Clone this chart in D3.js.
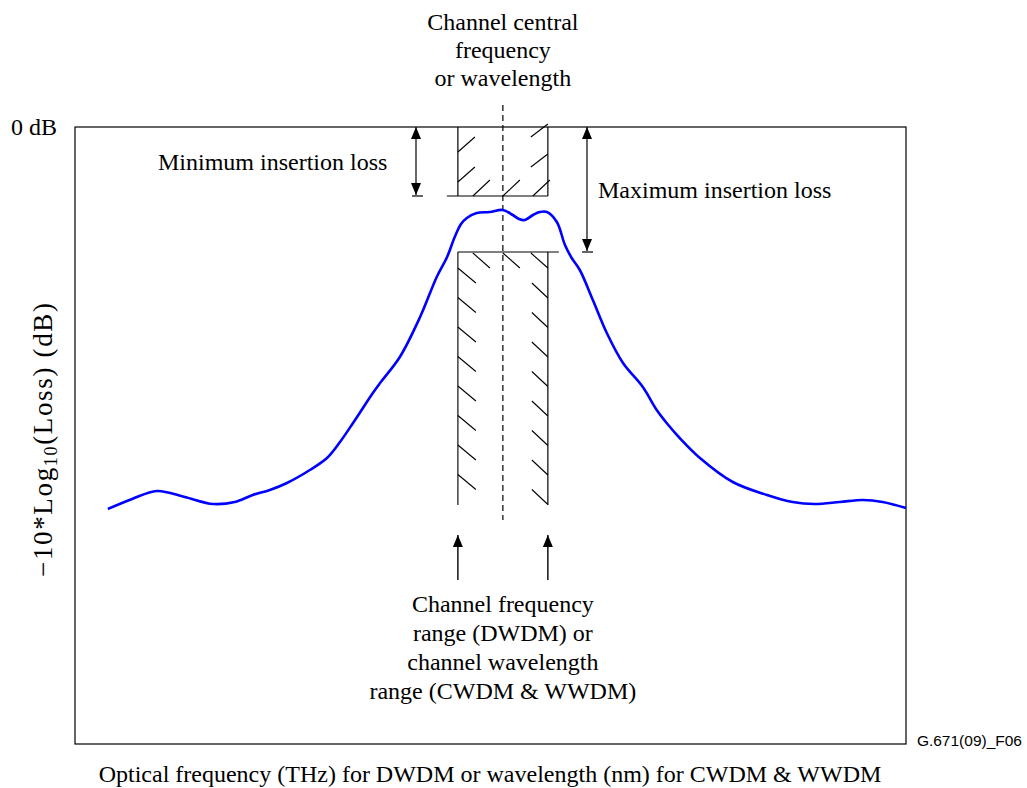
<!DOCTYPE html>
<html><head><meta charset="utf-8">
<script src="https://cdn.jsdelivr.net/npm/d3@7"></script>
<style>
html,body{margin:0;padding:0;background:#fff;}
text{font-family:"Liberation Serif","Times New Roman",serif;fill:#000;}
</style></head>
<body>
<svg id="chart" width="1027" height="788"></svg>
<script>
// Relative optical frequency (arbitrary units, channel centre = 0) and transmission (dB)
const curveFreq = [-87.8,-82.4,-76.9,-70.7,-64.4,-59.6,-55.6,-51.8,-48.0,-42.9,-39.1,-36.2,-33.3,-28.9,-27.3,-22.9,-18.4,-14.7,-12.4,-10.7,-9.3,-8.0,-5.8,-2.9,0,2.2,3.6,4.9,6.7,8.2,9.8,12.0,13.8,15.3,17.1,20.0,23.1,26.7,31.1,34.2,36.4,39.3,43.8,51.1,58.7,64.4,69.3,74.9,80.0,84.4,89.6];
const curveDb   = [-19.1,-18.6,-18.2,-18.5,-18.85,-18.75,-18.4,-18.15,-17.8,-17.15,-16.55,-15.75,-14.8,-13.3,-12.8,-11.5,-9.5,-7.5,-6.5,-5.5,-4.85,-4.55,-4.3,-4.25,-4.15,-4.4,-4.6,-4.65,-4.4,-4.25,-4.25,-4.75,-5.9,-6.55,-7.15,-8.65,-10.3,-11.8,-13.0,-14.15,-14.8,-15.55,-16.55,-17.75,-18.4,-18.75,-18.85,-18.75,-18.65,-18.75,-19.05];
const channelRange = [-10, 10];        // channel frequency range
const minInsertionLoss = -3.45;        // dB
const maxInsertionLoss = -6.25;        // dB
const maskFloor = -18.9;               // bottom of the lower mask
const centreLineRange = [1.1, -19.65]; // dashed centre line extent (dB)
const frameX = [-95.1, 89.6];
const frameDb = [0, -30.85];
const titleLines = ["Channel central", "frequency", "or wavelength"];
const rangeLines = ["Channel frequency", "range (DWDM) or", "channel wavelength", "range (CWDM & WWDM)"];
const xLabel = "Optical frequency (THz) for DWDM or wavelength (nm) for CWDM & WWDM";
const zeroLabel = "0 dB";
const minLabel = "Minimum insertion loss";
const maxLabel = "Maximum insertion loss";
const figId = "G.671(09)_F06";

const svg = d3.select("#chart");
const x = d3.scaleLinear().domain(frameX).range([75, 906]);
const y = d3.scaleLinear().domain(frameDb).range([127, 744]);

// arrowhead marker (points along the line direction)
const defs = svg.append("defs");
defs.append("marker").attr("id","ah").attr("viewBox","0 0 12 10")
  .attr("refX",12).attr("refY",5).attr("markerWidth",12).attr("markerHeight",10)
  .attr("markerUnits","userSpaceOnUse").attr("orient","auto-start-reverse")
  .append("path").attr("d","M12,5 L0,0 L0,10 Z").attr("fill","#000");

// frame
svg.append("rect").attr("x",x(frameX[0])).attr("y",y(0))
  .attr("width",x(frameX[1])-x(frameX[0])).attr("height",y(frameDb[1])-y(0))
  .attr("fill","none").attr("stroke","#000").attr("stroke-width",1.2);

const xl = x(channelRange[0]), xr = x(channelRange[1]);
const yTop = y(0), yMin = y(minInsertionLoss), yMax = y(maxInsertionLoss), yFloor = y(maskFloor);
const g = svg.append("g").attr("stroke","#000").attr("fill","none");

// upper mask box
g.append("line").attr("x1",xl).attr("x2",xl).attr("y1",yTop).attr("y2",yMin).attr("stroke-width",1.2);
g.append("line").attr("x1",xr).attr("x2",xr).attr("y1",yTop).attr("y2",yMin).attr("stroke-width",1.2);
g.append("line").attr("x1",xl-11).attr("x2",xr).attr("y1",yMin).attr("y2",yMin).attr("stroke-width",1.2);
// lower mask box
g.append("line").attr("x1",xl).attr("x2",xl).attr("y1",yMax).attr("y2",yFloor).attr("stroke-width",1.4).attr("stroke","#333");
g.append("line").attr("x1",xr).attr("x2",xr).attr("y1",yMax).attr("y2",yFloor).attr("stroke-width",1.2);
g.append("line").attr("x1",xl).attr("x2",xr+11).attr("y1",yMax).attr("y2",yMax).attr("stroke-width",1.2);

// hatches upper "/"
const hw = 17, hh = 15;
const hatchU = [];
[[xl, yTop+25],[xl, yTop+55]].forEach(p=>hatchU.push([p[0],p[1],p[0]+hw,p[1]-hh]));
[[xl+15, yMin],[x(0), yMin],[xr-hw+2, yMin]].forEach(p=>hatchU.push([p[0],p[1],p[0]+hw,p[1]-hh-1]));
[[xr-hw, yTop+10],[xr-hw, yTop+40]].forEach(p=>hatchU.push([p[0],p[1],p[0]+hw,p[1]-hh+2]));
// hatches lower "\"
const hatchL = [];
[xl+15, x(0), xr-hw].forEach(px=>hatchL.push([px, yMax+1, px+hw, yMax+16]));
for (let k=0;k<8;k++){ const yy = yMax+16+k*29.5; hatchL.push([xl, yy, xl+18, yy+15]); }
for (let k=0;k<8;k++){ const yy = yMax+31+k*29.5; if (yy+15<=yFloor+1) hatchL.push([xr-16, yy, xr, yy+15]); }
g.selectAll("line.h").data(hatchU.concat(hatchL)).enter().append("line")
  .attr("x1",d=>d[0]).attr("y1",d=>d[1]).attr("x2",d=>d[2]).attr("y2",d=>d[3]).attr("stroke-width",1.1);

// dashed centre line
g.append("line").attr("x1",x(0)).attr("x2",x(0)).attr("y1",y(centreLineRange[0])).attr("y2",y(centreLineRange[1]))
  .attr("stroke-dasharray","6,4").attr("stroke-width",1.2);

// insertion loss arrows
const xMinArrow = 416, xMaxArrow = 587;
g.append("line").attr("x1",xMinArrow).attr("x2",xMinArrow).attr("y1",yTop).attr("y2",yMin-1)
  .attr("marker-start","url(#ah)").attr("marker-end","url(#ah)").attr("stroke-width",1.2);
g.append("line").attr("x1",xMinArrow-4).attr("x2",xMinArrow+7).attr("y1",yMin).attr("y2",yMin).attr("stroke-width",1.2);
g.append("line").attr("x1",xMaxArrow).attr("x2",xMaxArrow).attr("y1",yTop).attr("y2",yMax-1)
  .attr("marker-start","url(#ah)").attr("marker-end","url(#ah)").attr("stroke-width",1.2);
g.append("line").attr("x1",xMaxArrow-5).attr("x2",xMaxArrow+6).attr("y1",yMax).attr("y2",yMax).attr("stroke-width",1.2);

// channel range arrows
[xl, xr].forEach(px=>{
  g.append("line").attr("x1",px).attr("x2",px).attr("y1",580).attr("y2",535)
   .attr("marker-end","url(#ah)").attr("stroke-width",1.4);
});

// curve
const data = curveFreq.map((f,i)=>[f, curveDb[i]]);
svg.append("path").datum(data)
  .attr("d", d3.line().x(d=>x(d[0])).y(d=>y(d[1])).curve(d3.curveCatmullRom.alpha(0.5)))
  .attr("fill","none").attr("stroke","#0000ff").attr("stroke-width",2.6).attr("stroke-linejoin","round");

// texts
const fs = 24;
svg.selectAll("text.title").data(titleLines).enter().append("text")
  .attr("x",x(0)).attr("y",(d,i)=>30+i*28).attr("text-anchor","middle").attr("font-size",fs).text(d=>d);
svg.selectAll("text.range").data(rangeLines).enter().append("text")
  .attr("x",x(0)).attr("y",(d,i)=>612+i*29).attr("text-anchor","middle").attr("font-size",fs).text(d=>d);
svg.append("text").attr("x",11).attr("y",135).attr("font-size",fs).text(zeroLabel);
svg.append("text").attr("x",158).attr("y",170).attr("font-size",fs).text(minLabel);
svg.append("text").attr("x",598).attr("y",198).attr("font-size",fs).text(maxLabel);
svg.append("text").attr("x",490).attr("y",782).attr("text-anchor","middle").attr("font-size",fs).text(xLabel);
svg.append("text").attr("x",1022).attr("y",746).attr("text-anchor","end")
  .style("font-family","'Liberation Sans',Arial,sans-serif").attr("font-size",15.5).text(figId);

// y label with subscript
const yl = svg.append("text").attr("transform","translate(52,440) rotate(-90)")
  .attr("text-anchor","middle").attr("font-size",27)
  .attr("textLength",274).attr("lengthAdjust","spacing");
yl.append("tspan").text("\u221210*Log");
yl.append("tspan").attr("font-size",18).attr("dy",5).text("10");
yl.append("tspan").attr("dy",-5).text("(Loss) (dB)");
</script>
</body></html>
